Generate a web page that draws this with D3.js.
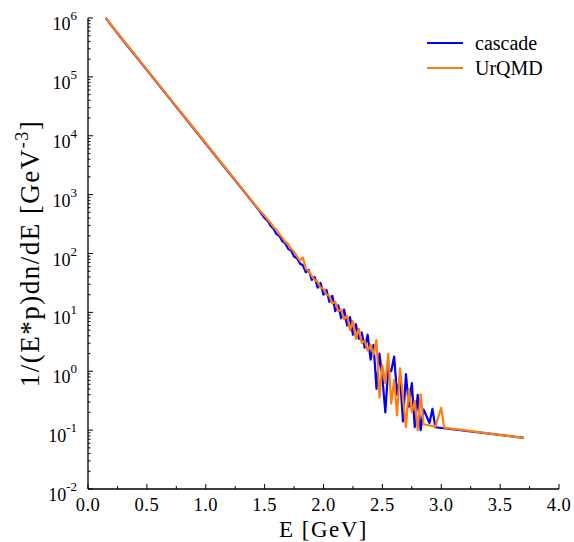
<!DOCTYPE html>
<html>
<head>
<meta charset="utf-8">
<script src="https://d3js.org/d3.v7.min.js"></script>
<style>
  body { margin: 0; background: #fff; }
  text { font-family: "Liberation Serif", "DejaVu Serif", serif; fill: #000; }
</style>
</head>
<body>
<script>
// cascade (blue) - energy in GeV and 1/(E*p)dn/dE
var eCascade = [0.15, 0.25, 0.35, 0.45, 0.55, 0.65, 0.75, 0.85, 0.95, 1.05, 1.15, 1.25, 1.35, 1.45,
  1.5, 1.525, 1.55, 1.575, 1.6, 1.625, 1.65, 1.675, 1.7, 1.725, 1.75, 1.775, 1.8, 1.825, 1.85, 1.875,
  1.9, 1.925, 1.95, 1.975, 2.0, 2.025, 2.05, 2.075, 2.1, 2.125, 2.15, 2.175, 2.2, 2.225, 2.25, 2.275,
  2.3, 2.325, 2.35, 2.375, 2.4, 2.425, 2.45, 2.475, 2.5, 2.525, 2.55, 2.575, 2.6, 2.625, 2.65, 2.675,
  2.7, 2.725, 2.75, 2.775, 2.8, 2.825, 2.85, 2.9, 2.925, 2.95, 3.7];
var cascade = [1.0e6, 5.5e5, 3.1e5, 1.75e5, 9.8e4, 5.5e4, 3.1e4, 1.75e4, 9.8e3, 5.5e3, 3.1e3, 1.75e3, 9.8e2, 5.5e2,
  398, 363, 295, 263, 214, 200, 162, 148, 120, 112, 89.1, 83.2, 67.6, 63.1, 47.9, 52.5,
  35.5, 39.8, 26.3, 31.6, 20.0, 24.0, 15.1, 19.1, 10.5, 13.2, 7.94, 11.2, 6.03, 8.32, 4.17, 6.31,
  3.55, 4.57, 2.51, 4.17, 1.58, 2.82, 0.501, 2.00, 0.794, 0.200, 1.12, 1.00, 1.78, 0.398, 0.794, 0.141,
  0.891, 0.251, 0.631, 0.112, 0.398, 0.100, 0.224, 0.132, 0.229, 0.112, 0.074];

// UrQMD (orange)
var eUrqmd = [0.15, 0.25, 0.35, 0.45, 0.55, 0.65, 0.75, 0.85, 0.95, 1.05, 1.15, 1.25, 1.35, 1.45,
  1.5, 1.525, 1.55, 1.575, 1.6, 1.625, 1.65, 1.675, 1.7, 1.725, 1.75, 1.775, 1.8, 1.825, 1.85, 1.875,
  1.9, 1.925, 1.95, 1.975, 2.0, 2.025, 2.05, 2.075, 2.1, 2.125, 2.15, 2.175, 2.2, 2.225, 2.25, 2.275,
  2.3, 2.325, 2.35, 2.375, 2.4, 2.425, 2.45, 2.475, 2.5, 2.525, 2.55, 2.575, 2.6, 2.625, 2.65, 2.675,
  2.7, 2.725, 2.75, 2.775, 2.8, 2.825, 2.85, 2.95, 3.0, 3.025, 3.7];
var urqmd = [1.0e6, 5.62e5, 3.16e5, 1.78e5, 1.0e5, 5.62e4, 3.16e4, 1.78e4, 1.0e4, 5.62e3, 3.16e3, 1.78e3, 1.0e3, 5.62e2,
  437, 380, 331, 282, 251, 214, 186, 158, 145, 120, 107, 89.1, 75.9, 85.1, 55.0, 50.1,
  41.7, 35.5, 33.1, 26.3, 25.1, 20.0, 19.1, 14.1, 15.1, 10.5, 11.2, 7.59, 8.91, 5.01, 7.08, 3.55,
  5.25, 3.02, 3.31, 2.24, 2.82, 1.91, 3.39, 0.355, 1.26, 0.631, 2.00, 0.282, 0.708, 0.178, 1.12, 0.355,
  0.112, 0.501, 0.200, 0.316, 0.100, 0.407, 0.126, 0.115, 0.240, 0.110, 0.074];

var seriesNames = ["cascade", "UrQMD"];
var seriesColors = ["#0000ff", "#ff7f0e"];
var xTicks = [0, 0.5, 1.0, 1.5, 2.0, 2.5, 3.0, 3.5, 4.0];
var yExponents = [-2, -1, 0, 1, 2, 3, 4, 5, 6];

var W = 574, H = 542;
var margin = {top: 18, right: 15, bottom: 53, left: 88};

var svg = d3.select("body").append("svg")
    .attr("width", W)
    .attr("height", H);

var x = d3.scaleLinear().domain([0, 4]).range([margin.left, W - margin.right]);
var y = d3.scaleLog().domain([1e-2, 1e6]).range([H - margin.bottom, margin.top]);

// minor tick positions
var xMinor = d3.range(0, 4.001, 0.25);
var yMinor = [];
yExponents.forEach(function(p) {
  if (p < 6) {
    for (var k = 2; k <= 9; k++) yMinor.push(k * Math.pow(10, p));
  }
});

// x axis
var xAxis = svg.append("g").attr("transform", "translate(0," + y(1e-2) + ")");
xAxis.append("line")
    .attr("x1", x(0)).attr("x2", x(4))
    .attr("stroke", "#000").attr("stroke-width", 1.3);
xAxis.selectAll(".minor").data(xMinor).enter().append("line")
    .attr("x1", d => x(d)).attr("x2", d => x(d))
    .attr("y1", 0).attr("y2", d => (Math.abs(d * 2 - Math.round(d * 2)) < 1e-6) ? -5 : -3)
    .attr("stroke", "#000").attr("stroke-width", 1);
xAxis.selectAll(".lab").data(xTicks).enter().append("text")
    .attr("x", d => x(d))
    .attr("y", 22)
    .attr("text-anchor", "middle")
    .style("font-size", "18.5px")
    .style("letter-spacing", "0.5px")
    .text(d => d3.format(".1f")(d));

// y axis
var yAxis = svg.append("g").attr("transform", "translate(" + x(0) + ",0)");
yAxis.append("line")
    .attr("y1", y(1e-2)).attr("y2", y(1e6))
    .attr("stroke", "#000").attr("stroke-width", 1.3);
yAxis.selectAll(".minor").data(yMinor).enter().append("line")
    .attr("y1", d => y(d)).attr("y2", d => y(d))
    .attr("x1", 0).attr("x2", 2.5)
    .attr("stroke", "#000").attr("stroke-width", 1);
yAxis.selectAll(".major").data(yExponents).enter().append("line")
    .attr("y1", d => y(Math.pow(10, d))).attr("y2", d => y(Math.pow(10, d)))
    .attr("x1", 0).attr("x2", 5)
    .attr("stroke", "#000").attr("stroke-width", 1);
var yLab = yAxis.selectAll(".lab").data(yExponents).enter().append("text")
    .attr("x", -11)
    .attr("y", d => y(Math.pow(10, d)) + 12)
    .attr("text-anchor", "end")
    .style("font-size", "18px");
yLab.append("tspan").text("10");
yLab.append("tspan").attr("dy", -10).style("font-size", "13px").text(d => d);

// axis titles
svg.append("text")
    .attr("x", (x(0) + x(4)) / 2)
    .attr("y", 537)
    .attr("text-anchor", "middle")
    .style("font-size", "23px")
    .style("letter-spacing", "1.5px")
    .text("E [GeV]");

var yTitle = svg.append("text")
    .attr("transform", "translate(39," + ((y(1e-2) + y(1e6)) / 2) + ") rotate(-90)")
    .attr("text-anchor", "middle")
    .style("font-size", "27px")
    .style("letter-spacing", "1.5px");
yTitle.append("tspan").text("1/(E*p)dn/dE [GeV");
yTitle.append("tspan").attr("dy", -11).style("font-size", "18px").text("-3");
yTitle.append("tspan").attr("dy", 11).text("]");

// lines
var line = d3.line()
    .x(d => x(d[0]))
    .y(d => y(d[1]));

var cascadeData = eCascade.map((e, i) => [e, cascade[i]]);
var urqmdData = eUrqmd.map((e, i) => [e, urqmd[i]]);

svg.append("path")
    .datum(cascadeData)
    .attr("d", line)
    .attr("fill", "none")
    .attr("stroke", seriesColors[0])
    .attr("stroke-width", 2.2)
    .attr("stroke-linejoin", "round");

svg.append("path")
    .datum(urqmdData)
    .attr("d", line)
    .attr("fill", "none")
    .attr("stroke", seriesColors[1])
    .attr("stroke-width", 2.2)
    .attr("stroke-linejoin", "round");

// legend
var legend = svg.append("g").attr("transform", "translate(427,43)");
seriesNames.forEach(function(name, i) {
  legend.append("line")
      .attr("x1", 0).attr("x2", 36)
      .attr("y1", i * 25).attr("y2", i * 25)
      .attr("stroke", seriesColors[i])
      .attr("stroke-width", 2.2);
  legend.append("text")
      .attr("x", 48)
      .attr("y", i * 25 + 7)
      .style("font-size", "20px")
      .text(name);
});
</script>
</body>
</html>
